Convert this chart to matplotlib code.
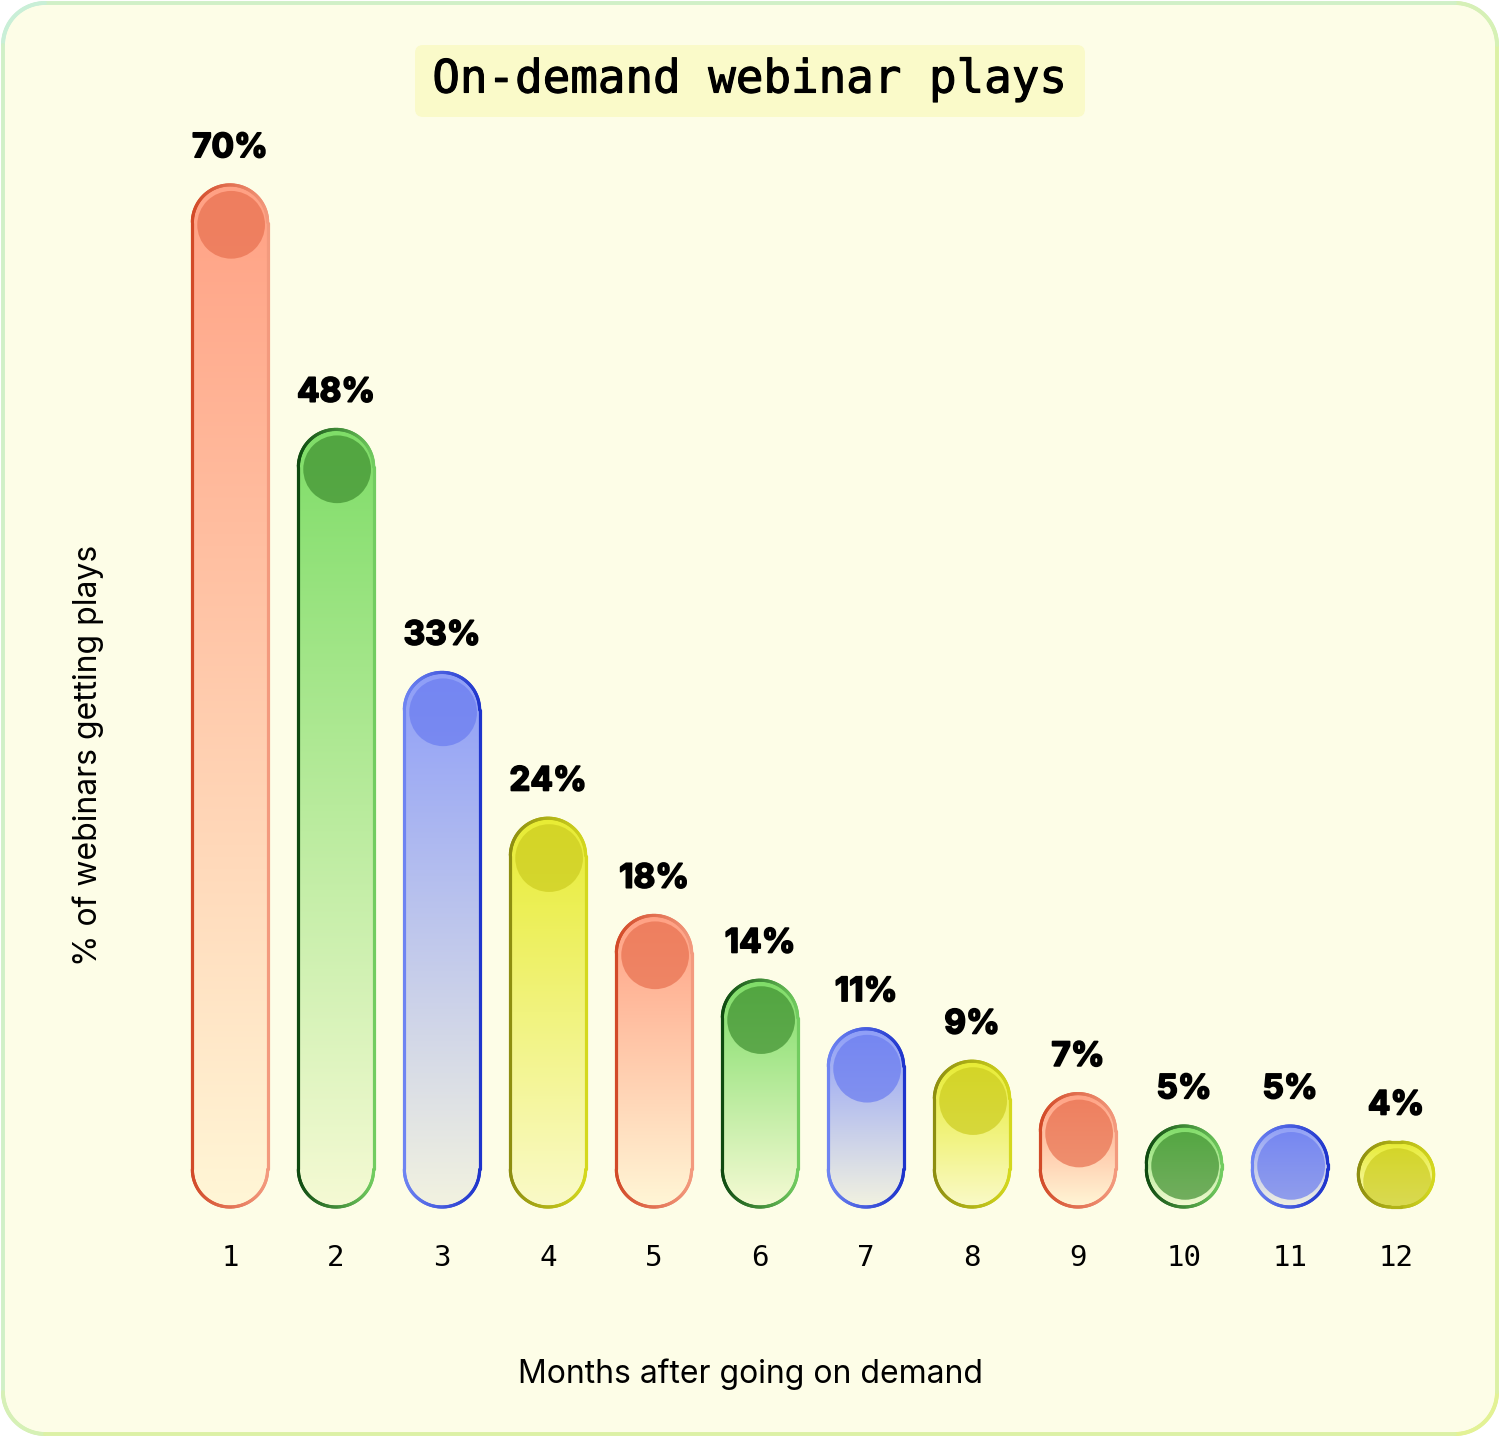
import numpy as np
import matplotlib
matplotlib.use('Agg')
import matplotlib.pyplot as plt
import matplotlib.patheffects as pe
from matplotlib.path import Path
from matplotlib.patches import PathPatch, Circle, FancyBboxPatch
from matplotlib.collections import LineCollection
from matplotlib.colors import to_rgb

W, H, DPI = 1500, 1437, 100

# data
months = list(range(1, 13))
plays_pct = [70, 48, 33, 24, 18, 14, 11, 9, 7, 5, 5, 4]
tick_labels = [str(m) for m in months]
title = 'On-demand webinar plays'
x_title = 'Months after going on demand'
y_title = '% of webinars getting plays'

# fill top, fill bottom, top circle, outline left, outline right
palette = [
    ('#FFA184', '#FFF6D6', '#E8704F', '#D24A28', '#F39A7E'),
    ('#7FDD68', '#F5FAD4', '#3F8F30', '#0F4A10', '#72CC60'),
    ('#8E9EF8', '#F2F2E0', '#6A7CF0', '#6E84F2', '#1E34CC'),
    ('#E8EC34', '#FAFAC8', '#CCCC20', '#8E8E10', '#D4D81E'),
]

# the tallest bar is squashed above this value
BREAK = 48
SQUASH = 0.686


def fwd(v):
    v = np.asarray(v, dtype=float)
    return np.where(v <= BREAK, v, BREAK + (v - BREAK) * SQUASH)


def inv(u):
    u = np.asarray(u, dtype=float)
    return np.where(u <= BREAK, u, BREAK + (u - BREAK) / SQUASH)


def rounded_pts(x0, y0, x1, y1, r, n=40):
    arcs = [((x1 - r, y0 + r), -90, 0), ((x1 - r, y1 - r), 0, 90),
            ((x0 + r, y1 - r), 90, 180), ((x0 + r, y0 + r), 180, 270)]
    pts = []
    for (cx, cy), a0, a1 in arcs:
        t = np.radians(np.linspace(a0, a1, n))
        pts.append(np.column_stack([cx + r * np.cos(t), cy + r * np.sin(t)]))
    pts = np.vstack(pts)
    return np.vstack([pts, pts[:1]])


def grad_line(axp, pts, ca, cb, tfun, lw, z):
    segs = np.stack([pts[:-1], pts[1:]], axis=1)
    mid = segs.mean(axis=1)
    tt = np.clip(tfun(mid[:, 0], mid[:, 1]), 0, 1)[:, None]
    cols = (1 - tt) * np.array(to_rgb(ca)) + tt * np.array(to_rgb(cb))
    lc = LineCollection(segs, colors=cols, linewidths=lw, capstyle='round', zorder=z)
    axp.add_collection(lc)


fig = plt.figure(figsize=(W / DPI, H / DPI), dpi=DPI)
fig.patch.set_facecolor('white')

# overlay axes in pixel units for the drawing
axp = fig.add_axes([0, 0, 1, 1])
axp.set_xlim(0, W)
axp.set_ylim(0, H)
axp.set_autoscale_on(False)
axp.set_zorder(0)
axp.axis('off')

# card background
card = rounded_pts(3, 3, W - 3, H - 3, 42)
axp.add_patch(PathPatch(Path(card), facecolor='#FDFDE7', edgecolor='none', zorder=0))
grad_line(axp, card, '#C9EFD8', '#E3F294', lambda x, y: (x / W + (1 - y / H)) / 2, 2.8, 1)

# title
axp.add_patch(FancyBboxPatch((415, H - 117), 670, 72, boxstyle='round,pad=0,rounding_size=8',
                             facecolor='#FAFAC9', edgecolor='none', zorder=1))
axp.text(750, H - 80, title, ha='center', va='center', fontsize=33, family='DejaVu Sans Mono', zorder=5,
         path_effects=[pe.withStroke(linewidth=0.8, foreground='black')])

# value axes
px_per = 16.2
ymax = 77
ax_h = float(fwd(ymax)) * px_per
ax = fig.add_axes([150 / W, 230 / H, 1320 / W, ax_h / H])
ax.set_zorder(1)
ax.patch.set_alpha(0)
ax.set_yscale('function', functions=(fwd, inv))
ax.set_ylim(0, ymax)
ax.set_xlim(1 - 80 / 106, 12 + 74 / 106)
for s in ax.spines.values():
    s.set_visible(False)
ax.set_yticks([])
ax.minorticks_off()
ax.set_xticks(months, tick_labels, fontsize=21, family='DejaVu Sans Mono')
ax.tick_params(axis='x', length=0, pad=27)

BAR_W = 0.71

for i, (m, v) in enumerate(zip(months, plays_pct)):
    ftop, fbot, fcirc, eleft, eright = palette[i % 4]
    to_pix = axp.transData.inverted()
    xa, ya = to_pix.transform(ax.transData.transform((m - BAR_W / 2, 0)))
    xb, yb = to_pix.transform(ax.transData.transform((m + BAR_W / 2, v)))
    w, h = xb - xa, yb - ya
    r = min(w, h) / 2
    pts = rounded_pts(xa, ya, xb, yb, r)
    pill = PathPatch(Path(pts), facecolor='none', edgecolor='none', zorder=2)
    axp.add_patch(pill)

    tt = np.linspace(0, 1, 256)[:, None]
    grad = (1 - tt) * np.array(to_rgb(ftop)) + tt * np.array(to_rgb(fbot))
    im = axp.imshow(grad[:, None, :], extent=(xa, xb, ya, yb), origin='upper',
                    aspect='auto', interpolation='bilinear', zorder=2)
    im.set_clip_path(pill)

    circ = Circle((xa + w / 2 + 0.015 * w, yb - 0.53 * w), 0.45 * w,
                  facecolor=fcirc, edgecolor='none', alpha=0.7, zorder=3)
    axp.add_patch(circ)
    circ.set_clip_path(pill)

    grad_line(axp, pts, eleft, eright, lambda x, y, xa=xa, w=w: (x - xa) / w, 2.3, 4)

    ax.annotate(f'{v}%', (m, v), xytext=(0, 20), textcoords='offset points',
                ha='center', va='baseline', fontsize=24, fontweight='bold',
                family=['Inter', 'DejaVu Sans'], annotation_clip=False,
                path_effects=[pe.withStroke(linewidth=1.3, foreground='black')])

ax.set_xlabel(x_title, fontsize=23, family=['Inter', 'DejaVu Sans'])
ax.xaxis.set_label_coords((750 - 150) / 1320, (63 - 230) / ax_h)
ax.xaxis.label.set_va('center')
ax.set_ylabel(y_title, fontsize=23, family=['Inter', 'DejaVu Sans'])
ax.yaxis.set_label_coords((88 - 150) / 1320, (682 - 230) / ax_h)
ax.yaxis.label.set_va('center')

fig.savefig('out.png', dpi=DPI)
